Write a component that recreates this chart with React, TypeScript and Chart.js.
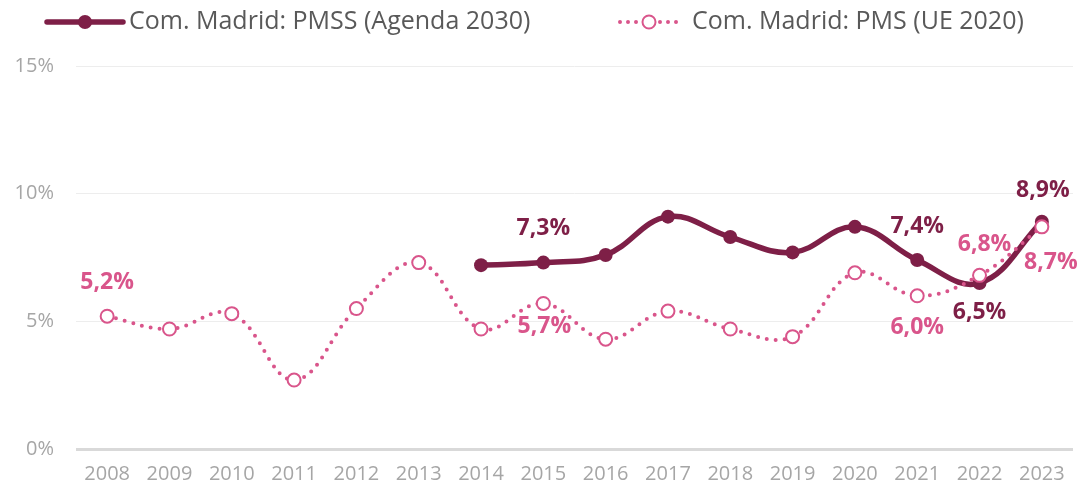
import React, { useEffect, useRef } from "react";
import { Chart, registerables } from "chart.js";

Chart.register(...registerables);

const years = ["2008", "2009", "2010", "2011", "2012", "2013", "2014", "2015", "2016", "2017", "2018", "2019", "2020", "2021", "2022", "2023"];
const pmssAgenda2030: (number | null)[] = [null, null, null, null, null, null, 7.2, 7.3, 7.6, 9.1, 8.3, 7.7, 8.7, 7.4, 6.5, 8.9];
const pmsUE2020: number[] = [5.2, 4.7, 5.3, 2.7, 5.5, 7.3, 4.7, 5.7, 4.3, 5.4, 4.7, 4.4, 6.9, 6.0, 6.8, 8.7];
const seriesNames = ["Com. Madrid: PMSS (Agenda 2030)", "Com. Madrid: PMS (UE 2020)"];
const yTicks = [0, 5, 10, 15];
// which points carry a value label (index into years)
const pmssLabelled = [7, 13, 14, 15];
const pmsLabelled = [0, 7, 13, 14, 15];

const DARK = "#7E1F47";
const PINK = "#D9558B";
const FONT = "'Open Sans', 'Liberation Sans', Arial, sans-serif";

// label placement (style): offset of label centre from its point
const labelOffsets: Record<string, { dx: number; dy: number }> = {
  "1-0": { dx: 0, dy: -34 },
  "1-7": { dx: 1, dy: 23 },
  "1-13": { dx: 0, dy: 32 },
  "1-14": { dx: 5, dy: -31 },
  "1-15": { dx: 9, dy: 36 },
  "0-7": { dx: 0, dy: -34 },
  "0-13": { dx: 0, dy: -34 },
  "0-14": { dx: 0, dy: 29 },
  "0-15": { dx: 1, dy: -31 },
};

const fmt = (v: number) => v.toFixed(1).replace(".", ",") + "%";

const valueLabelPlugin = {
  id: "valueLabels",
  afterDatasetsDraw(chart: any) {
    const ctx = chart.ctx;
    ctx.save();
    ctx.font = `bold 23px ${FONT}`;
    ctx.textAlign = "center";
    ctx.textBaseline = "middle";
    const lists = [pmssLabelled, pmsLabelled];
    lists.forEach((idxs, di) => {
      const meta = chart.getDatasetMeta(di);
      const data = chart.data.datasets[di].data;
      idxs.forEach((i) => {
        const el = meta.data[i];
        const v = data[i];
        if (!el || v == null) return;
        const off = labelOffsets[`${di}-${i}`] || { dx: 0, dy: -30 };
        ctx.fillStyle = di === 0 ? DARK : PINK;
        ctx.fillText(fmt(v), el.x + off.dx, el.y + off.dy);
      });
    });
    ctx.restore();
  },
};

const legendPlugin = {
  id: "customLegend",
  afterDraw(chart: any) {
    const ctx = chart.ctx;
    ctx.save();
    const y = 22;
    ctx.lineCap = "round";
    // item 1
    ctx.strokeStyle = DARK;
    ctx.lineWidth = 5.5;
    ctx.beginPath();
    ctx.moveTo(47, y);
    ctx.lineTo(123, y);
    ctx.stroke();
    ctx.fillStyle = DARK;
    ctx.beginPath();
    ctx.arc(85, y, 7, 0, Math.PI * 2);
    ctx.fill();
    ctx.font = `25px ${FONT}`;
    ctx.textBaseline = "middle";
    ctx.textAlign = "left";
    ctx.fillStyle = "#595959";
    ctx.fillText(seriesNames[0], 129, y);
    // item 2
    ctx.strokeStyle = PINK;
    ctx.lineWidth = 4;
    ctx.setLineDash([0, 8]);
    ctx.beginPath();
    ctx.moveTo(620, y);
    ctx.lineTo(680, y);
    ctx.stroke();
    ctx.setLineDash([]);
    ctx.fillStyle = "#FFFFFF";
    ctx.lineWidth = 2;
    ctx.beginPath();
    ctx.arc(649, y, 6.5, 0, Math.PI * 2);
    ctx.fill();
    ctx.stroke();
    ctx.fillStyle = "#595959";
    ctx.fillText(seriesNames[1], 692, y);
    ctx.restore();
  },
};

export default function App() {
  const ref = useRef<HTMLCanvasElement | null>(null);
  useEffect(() => {
    if (!ref.current) return;
    const chart = new Chart(ref.current, {
      type: "line",
      data: {
        labels: years,
        datasets: [
          {
            label: seriesNames[0],
            data: pmssAgenda2030,
            borderColor: DARK,
            backgroundColor: DARK,
            borderWidth: 5.5,
            tension: 0.4,
            pointRadius: 7,
            pointBackgroundColor: DARK,
            pointBorderColor: DARK,
            pointBorderWidth: 0,
            order: 1,
            clip: false,
          },
          {
            label: seriesNames[1],
            data: pmsUE2020,
            borderColor: PINK,
            backgroundColor: "#FFFFFF",
            borderWidth: 4,
            borderDash: [0, 9],
            borderCapStyle: "round",
            tension: 0.4,
            pointRadius: 6.5,
            pointBackgroundColor: "#FFFFFF",
            pointBorderColor: PINK,
            pointBorderWidth: 2,
            order: 0,
            clip: false,
          },
        ] as any,
      },
      options: {
        animation: false,
        responsive: true,
        maintainAspectRatio: false,
        layout: { padding: { top: 66, right: 9, left: 0, bottom: 0 } },
        plugins: { legend: { display: false }, tooltip: { enabled: false } },
        scales: {
          x: {
            offset: true,
            grid: { display: false },
            border: { display: false },
            ticks: { color: "#A6A6A6", font: { family: FONT, size: 20 }, padding: 5, maxRotation: 0 },
            afterFit: (s: any) => {
              s.height = 41;
            },
          },
          y: {
            min: yTicks[0],
            max: yTicks[yTicks.length - 1],
            afterBuildTicks: (s: any) => {
              s.ticks = yTicks.map((v) => ({ value: v }));
            },
            border: { display: false },
            grid: {
              drawTicks: false,
              color: (c: any) => (c.tick && c.tick.value === 0 ? "#D9D9D9" : "#EDEDED"),
              lineWidth: (c: any) => (c.tick && c.tick.value === 0 ? 3 : 1),
            },
            ticks: {
              color: "#A6A6A6",
              font: { family: FONT, size: 20 },
              padding: 22,
              callback: (v: any) => v + "%",
            },
            afterFit: (s: any) => {
              s.width = 76;
            },
          },
        },
      },
      plugins: [valueLabelPlugin, legendPlugin],
    });
    return () => chart.destroy();
  }, []);
  return (
    <div style={{ position: "absolute", left: 0, top: 0, width: 1082, height: 490, background: "#fff" }}>
      <canvas ref={ref} />
    </div>
  );
}
